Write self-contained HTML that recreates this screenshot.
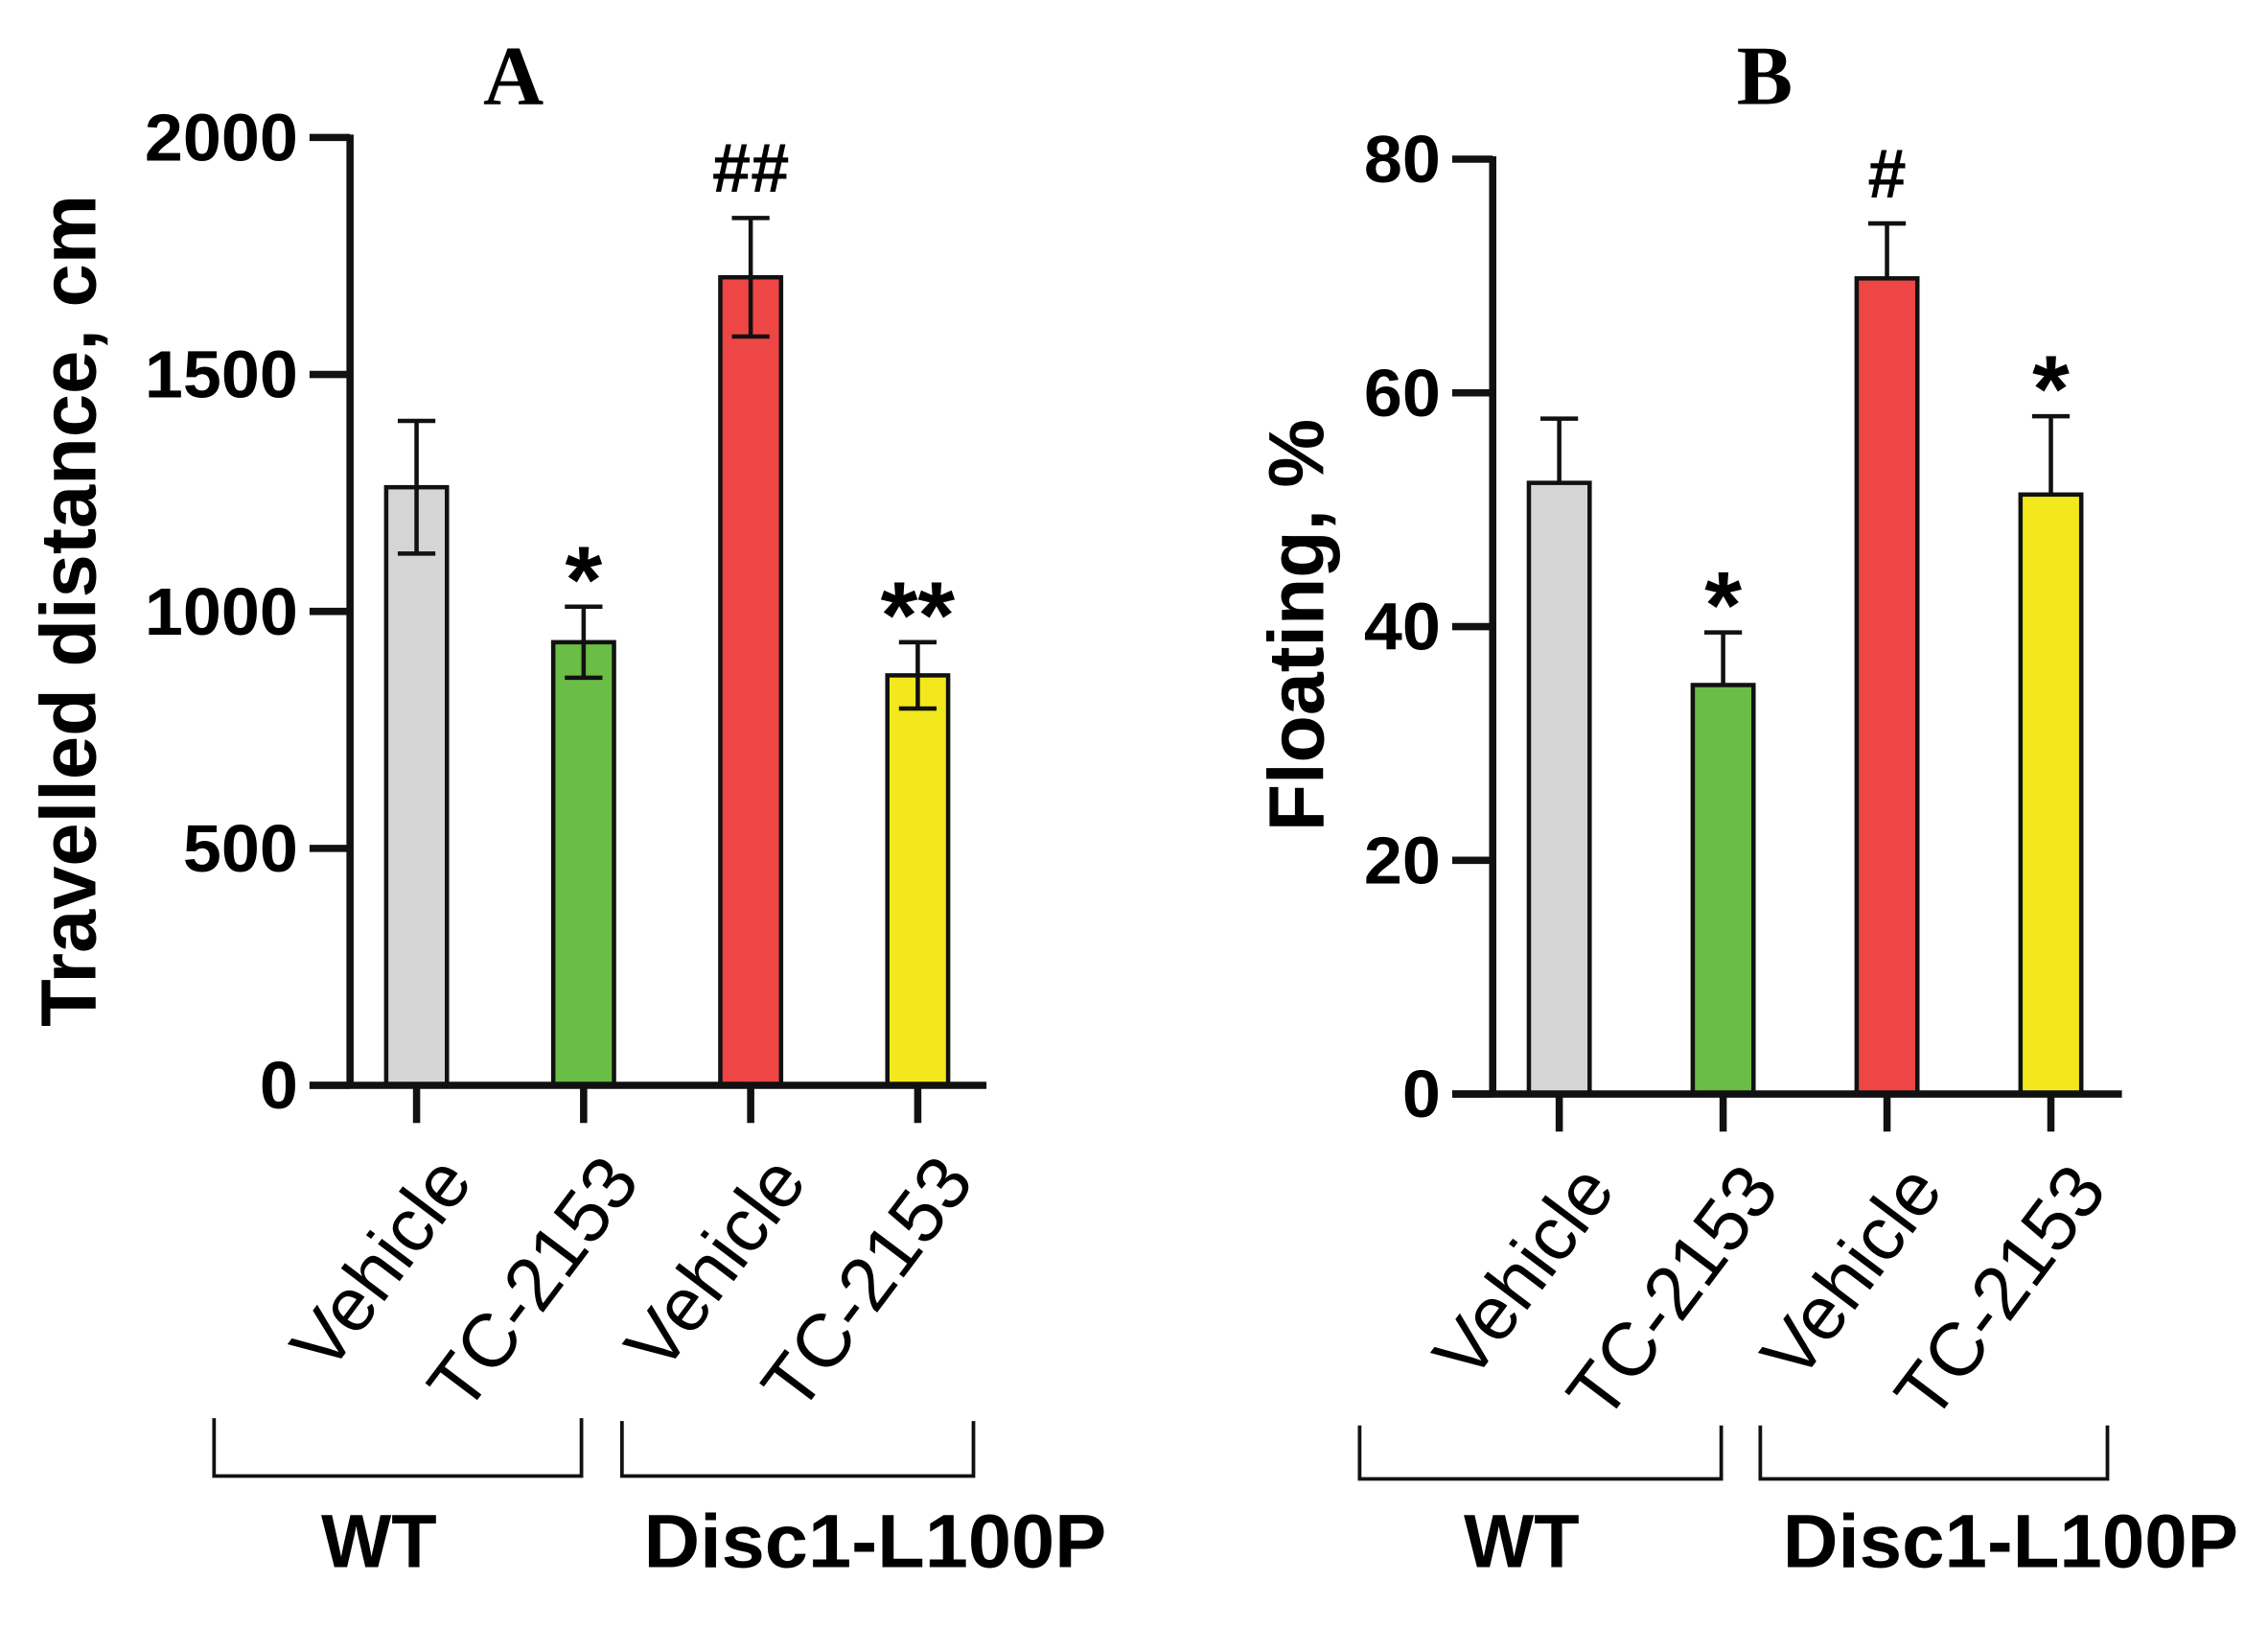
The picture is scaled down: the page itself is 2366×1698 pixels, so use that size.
<!DOCTYPE html>
<html><head><meta charset="utf-8"><style>
html,body{margin:0;padding:0;background:#fff;}
svg{display:block;}
</style></head><body>
<svg id="fig" width="2366" height="1698" viewBox="0 0 1568 1125" preserveAspectRatio="none" xmlns="http://www.w3.org/2000/svg" font-family="Liberation Sans, sans-serif"></svg>
<script>
const categories = ["Vehicle", "TC-2153", "Vehicle", "TC-2153"];
const groups = ["WT", "Disc1-L100P"];
const colors = ["#d4d5d4", "#6abd45", "#ee4545", "#f2e81b"];
const distanceValues = [1262, 935, 1705, 865];
const distanceErrors = [140, 75, 125, 70];
const distanceTicks = [0, 500, 1000, 1500, 2000];
const distanceMarks = ["", "*", "##", "**"];
const floatingValues = [52.3, 35.0, 69.8, 51.3];
const floatingErrors = [5.5, 4.5, 4.7, 6.7];
const floatingTicks = [0, 20, 40, 60, 80];
const floatingMarks = ["", "*", "#", "*"];

const svg = document.getElementById('fig');
const NS = 'http://www.w3.org/2000/svg';
function mk(tag, attrs, parent) {
  const e = document.createElementNS(NS, tag);
  for (const k in attrs) e.setAttribute(k, attrs[k]);
  (parent || svg).appendChild(e);
  return e;
}

function panel(cfg) {
  const g = mk('g', {});
  
  
  const y = v => cfg.y0 - v / cfg.max * (cfg.y0 - cfg.yTop);
  const x = i => cfg.x0 + i * cfg.step;
  const t = mk('text', {x: cfg.titleX, y: 72, 'font-family': 'Liberation Serif, serif', 'font-weight': 'bold', 'font-size': 58, 'text-anchor': 'middle'}, g);
  t.textContent = cfg.title;
  
  
  cfg.values.forEach((v, i) => {
    const r = mk('rect', {x: x(i) - 21, y: y(v), width: 42, height: cfg.y0 - y(v), fill: colors[i], stroke: '#111', 'stroke-width': 3}, g);
    
    
    const e = cfg.errors[i];
    const top = y(v + e), bot = cfg.twoSided ? y(v - e) : y(v);
    const eb = mk('path', {d: `M${x(i)},${top}V${bot}M${x(i)-13},${top}H${x(i)+13}` + (cfg.twoSided ? `M${x(i)-13},${bot}H${x(i)+13}` : ''), stroke: '#111', 'stroke-width': 3, fill: 'none'}, g);
    
    
    if (cfg.marks[i]) {
      const isHash = cfg.marks[i].includes('#');
      const m = mk('text', {x: x(i), y: isHash ? top - 18 : top + 4, 'font-size': isHash ? 48 : 66, 'font-weight': 'bold', 'text-anchor': 'middle'}, g);
      m.textContent = cfg.marks[i];
      
      
    }
    const tk = mk('line', {x1: x(i), x2: x(i), y1: cfg.y0, y2: cfg.y0 + 26, stroke: '#111', 'stroke-width': 5}, g);
    
    
    const lx = x(i) + 10, ly = cfg.y0 + 44;
    const lab = mk('text', {x: lx, y: ly, 'font-size': 52, 'text-anchor': 'end', transform: `rotate(-53 ${lx} ${ly})`, 'dominant-baseline': 'hanging'}, g);
    lab.textContent = categories[i];
    
    
  });
  mk('line', {x1: cfg.axisX, x2: cfg.axisX, y1: cfg.yTop - 2, y2: cfg.y0 + 2, stroke: '#111', 'stroke-width': 5}, g);
  mk('line', {x1: cfg.axisX - 28, x2: cfg.xEnd, y1: cfg.y0, y2: cfg.y0, stroke: '#111', 'stroke-width': 5}, g);
  cfg.ticks.forEach(tv => {
    mk('line', {x1: cfg.axisX - 28, x2: cfg.axisX, y1: y(tv), y2: y(tv), stroke: '#111', 'stroke-width': 5}, g);
    const s = String(tv);
    const tl = mk('text', {x: cfg.axisX - 36, y: y(tv) + 16, 'font-size': 46, 'font-weight': 'bold', 'text-anchor': 'end', textLength: s.length * 26.5, lengthAdjust: 'spacingAndGlyphs'}, g);
    tl.textContent = s;
    
    
  });
  const yt = mk('text', {x: cfg.ytX, y: cfg.ytY, 'font-size': 54, 'font-weight': 'bold', 'text-anchor': 'middle', transform: `rotate(-90 ${cfg.ytX} ${cfg.ytY})`, textLength: cfg.ytLen, lengthAdjust: 'spacingAndGlyphs'}, g);
  yt.textContent = cfg.yTitle;
  
  
  cfg.brackets.forEach((b, k) => {
    const br = mk('path', {d: `M${b[0]},${b[2]}V${b[3]}H${b[1]}V${b[2]}`, stroke: '#111', 'stroke-width': 2.5, fill: 'none'}, g);
    
    
    const gl = mk('text', {x: cfg.groupX[k], y: 1083, 'font-size': 52, 'font-weight': 'bold', 'text-anchor': 'middle', textLength: cfg.groupLen[k], lengthAdjust: 'spacingAndGlyphs'}, g);
    gl.textContent = groups[k];
    
    
  });
}

panel({name: 'panel-a', title: 'A', titleX: 355, values: distanceValues, errors: distanceErrors, ticks: distanceTicks, marks: distanceMarks,
  max: 2000, y0: 750, yTop: 95, x0: 288, step: 115.5, axisX: 242, xEnd: 682, twoSided: true,
  yTitle: 'Travelled distance, cm', ytX: 66, ytY: 422, ytLen: 575,
  groupX: [262, 605], groupLen: [80, 320],
  brackets: [[148, 402, 980, 1020], [430, 673, 982, 1020]]});
panel({name: 'panel-b', title: 'B', titleX: 1220, values: floatingValues, errors: floatingErrors, ticks: floatingTicks, marks: floatingMarks,
  max: 80, y0: 756, yTop: 110, x0: 1078, step: 113.3, axisX: 1032, xEnd: 1467, twoSided: false,
  yTitle: 'Floating, %', ytX: 915, ytY: 432, ytLen: 285,
  groupX: [1052, 1390], groupLen: [80, 315],
  brackets: [[940, 1190, 985, 1022], [1217, 1457, 985, 1022]]});
</script>
</body></html>
